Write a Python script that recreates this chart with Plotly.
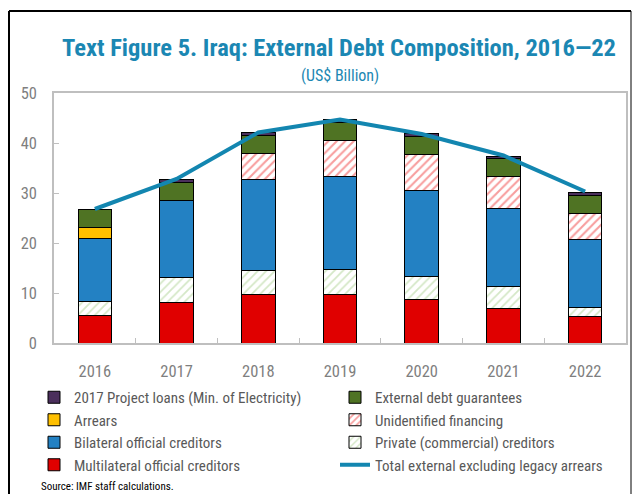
import plotly.graph_objects as go

years = ["2016", "2017", "2018", "2019", "2020", "2021", "2022"]
multilateral = [5.5, 8.2, 9.7, 9.8, 8.7, 7.0, 5.3]
private = [2.9, 4.9, 4.8, 5.0, 4.6, 4.4, 1.8]
bilateral = [12.6, 15.5, 18.2, 18.5, 17.2, 15.5, 13.6]
arrears = [2.1, None, None, None, None, None, None]
unidentified = [None, None, 5.2, 7.2, 7.2, 6.4, 5.3]
guarantees = [3.7, 3.5, 3.6, 3.7, 3.6, 3.6, 3.6]
project_loans = [None, 0.6, 0.6, 0.5, 0.6, 0.4, 0.6]
total_line = [26.8, 32.8, 42.1, 44.7, 41.8, 37.5, 30.3]

FONT = "Liberation Sans Narrow, Roboto Condensed, Lato, sans-serif"
W, H = 633, 494
ML, MR, MT, MB = 54, 7, 93, 151
PW = W - ML - MR
PH = H - MT - MB


def px(x):
    return (x - ML) / PW


def py(y):
    return (H - MB - y) / PH


fig = go.Figure()
line_black = dict(color="#000000", width=1)

series = [
    ("Multilateral official creditors", multilateral, dict(color="#E00000"), 7),
    ("Private (commercial) creditors", private,
     dict(color="white", pattern=dict(shape="/", fgcolor="#A9D08E", bgcolor="white", size=6, solidity=0.3)), 6),
    ("Bilateral official creditors", bilateral, dict(color="#2381C3"), 5),
    ("Arrears", arrears, dict(color="#FFC000"), 3),
    ("Unidentified financing", unidentified,
     dict(color="white", pattern=dict(shape="/", fgcolor="#F03C3C", bgcolor="white", size=6, solidity=0.35)), 4),
    ("External debt guarantees", guarantees, dict(color="#4F7323"), 2),
    ("2017 Project loans (Min. of Electricity)", project_loans, dict(color="#4B2F5C"), 1),
]
for name, vals, mk, rank in series:
    mk = dict(mk)
    mk["line"] = line_black
    fig.add_trace(go.Bar(x=years, y=vals, name=name, marker=mk, legendrank=rank))

fig.add_trace(go.Scatter(
    x=years, y=total_line, name="Total external excluding legacy arrears",
    mode="lines", line=dict(color="#1386B0", width=4),
    legendrank=8,
))

fig.update_layout(
    width=W, height=H,
    margin=dict(l=ML, r=MR, t=MT, b=MB, autoexpand=False),
    barmode="stack", bargap=0.59,
    plot_bgcolor="white", paper_bgcolor="white",
    font=dict(family=FONT, size=15, color="#595959"),
    showlegend=True,
    legend=dict(
        orientation="h", x=px(34), y=py(381), xanchor="left", yanchor="top",
        entrywidth=256, font=dict(family=FONT, size=15, color="#595959"),
        traceorder="normal", itemwidth=30, bgcolor="rgba(0,0,0,0)",
    ),
    xaxis=dict(
        showline=True, linecolor="#BFBFBF", linewidth=1.5, mirror=True,
        ticks="inside", tickson="boundaries", ticklen=5, tickcolor="#BFBFBF",
        tickfont=dict(family=FONT, size=16.5, color="#7F7F7F"), ticklabelstandoff=12,
    ),
    yaxis=dict(
        range=[0, 50], dtick=10, showline=True, linecolor="#BFBFBF", linewidth=1.5, mirror=True,
        ticks="inside", ticklen=5, tickcolor="#BFBFBF", showgrid=False, zeroline=False,
        tickfont=dict(family=FONT, size=16.5, color="#7F7F7F"), ticklabelstandoff=12,
    ),
    annotations=[
        dict(text="<b>Text Figure 5. Iraq: External Debt Composition, 2016\u201422</b>",
             x=px(339), y=py(47), xref="paper", yref="paper", showarrow=False,
             xanchor="center", yanchor="middle",
             font=dict(family=FONT, size=24.5, color="#1B87B3")),
        dict(text="(US$ Billion)", x=px(340), y=py(76), xref="paper", yref="paper",
             showarrow=False, xanchor="center", yanchor="middle",
             font=dict(family=FONT, size=16, color="#1B87B3")),
        dict(text="Source: IMF staff calculations.", x=px(39), y=py(486), xref="paper", yref="paper",
             showarrow=False, xanchor="left", yanchor="middle",
             font=dict(family=FONT, size=11, color="#000000")),
    ],
    shapes=[
        dict(type="line", xref="paper", yref="paper", x0=px(9), x1=px(9), y0=py(11), y1=py(520),
             line=dict(color="#000000", width=2)),
        dict(type="line", xref="paper", yref="paper", x0=px(9), x1=px(631), y0=py(11), y1=py(11),
             line=dict(color="#000000", width=2)),
        dict(type="line", xref="paper", yref="paper", x0=px(631), x1=px(631), y0=py(11), y1=py(520),
             line=dict(color="#000000", width=1)),
    ],
)

fig.write_html("out.html", config={"displayModeBar": False},
               post_script="document.body.style.margin='0';")
